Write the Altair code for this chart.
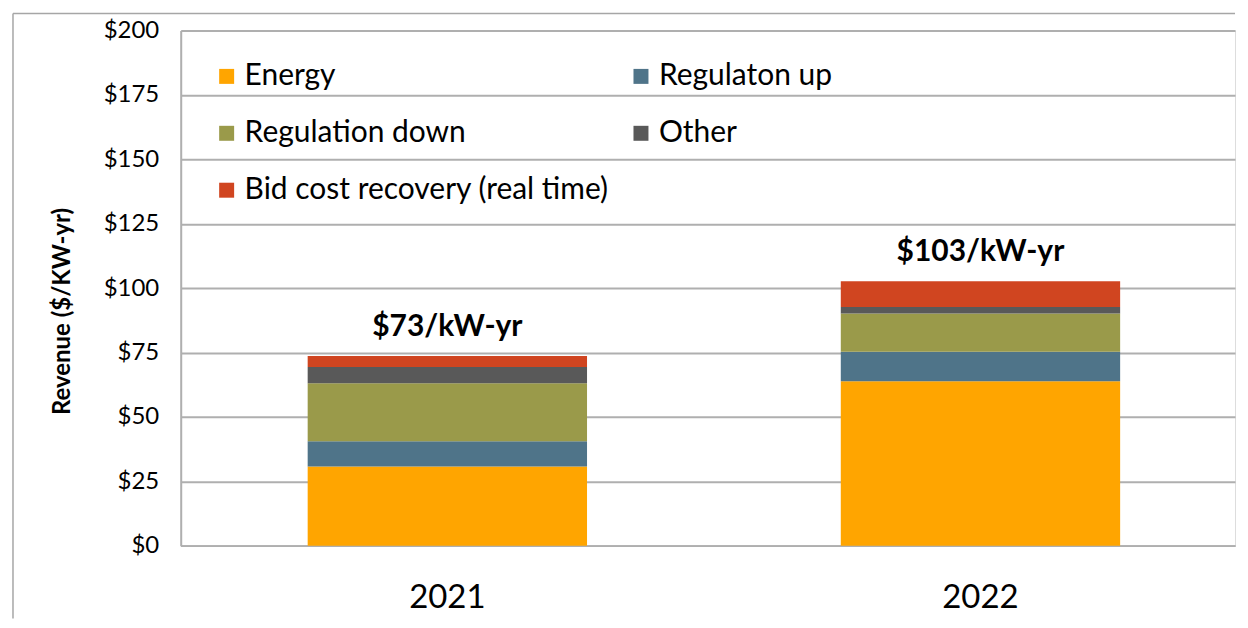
import altair as alt
import pandas as pd

years = ["2021", "2022"]
categories = ["Energy", "Regulaton up", "Regulation down", "Other",
              "Bid cost recovery (real time)"]
colors = ["#FFA500", "#4F7489", "#9A9A4A", "#595959", "#D04520"]
energy = [30.7, 63.8]
reg_up = [9.8, 11.5]
reg_down = [22.5, 14.8]
other = [6.3, 2.5]
bid_cost = [4.3, 10.0]
total_labels = ["$73/kW-yr", "$103/kW-yr"]
y_ticks = [0, 25, 50, 75, 100, 125, 150, 175, 200]

series = [energy, reg_up, reg_down, other, bid_cost]
rows = []
for ci, (cat, vals) in enumerate(zip(categories, series)):
    for yi, yr in enumerate(years):
        rows.append({"year": yr, "cat": cat, "idx": ci, "value": vals[yi]})
df = pd.DataFrame(rows)

lab_df = pd.DataFrame({
    "year": years,
    "value": [sum(s[i] for s in series) for i in range(len(years))],
    "label": total_labels,
})

W, H = 1056, 516
FONT = "Lato"
GRID = "#AFAFAF"

xscale = alt.Scale(domain=years, paddingInner=0.476, paddingOuter=0.2268, align=0.525)
yscale = alt.Scale(domain=[0, 200], nice=False)

xaxis = alt.Axis(
    title=None, labelAngle=0, ticks=False, labelFontSize=33, labelColor="#000",
    labelPadding=36, domainColor=GRID, domainWidth=2, grid=False, labelFont=FONT)
yaxis = alt.Axis(
    values=y_ticks, labelExpr="'$' + datum.value", ticks=False,
    labelFontSize=24, labelColor="#000", labelPadding=22, labelFont=FONT,
    grid=True, gridColor=GRID, gridWidth=2, domainColor=GRID, domainWidth=2,
    title="Revenue ($/KW-yr)", titleFontSize=24, titleFontWeight="bold",
    titleColor="#000", titleFont=FONT, titleX=-118, titleY=281,
    titleAngle=270, titleAlign="center", titleBaseline="middle")

bars = alt.Chart(df).mark_bar().encode(
    x=alt.X("year:N", scale=xscale, axis=xaxis),
    y=alt.Y("value:Q", scale=yscale, stack="zero", axis=yaxis),
    color=alt.Color("cat:N", scale=alt.Scale(domain=categories, range=colors),
                    legend=alt.Legend(
                        title=None, orient="none", legendX=31, legendY=31,
                        direction="horizontal", columns=2, symbolType="square",
                        symbolSize=225, symbolStrokeWidth=0, labelFontSize=30,
                        labelFont=FONT, labelColor="#000", labelOffset=3,
                        labelLimit=0, rowPadding=27, columnPadding=17, padding=0)),
    order=alt.Order("idx:Q", sort="ascending"),
)

labels = alt.Chart(lab_df).mark_text(
    fontSize=30, fontWeight="bold", font=FONT, color="#000",
    baseline="bottom", dy=-14,
).encode(x=alt.X("year:N", scale=xscale, axis=xaxis),
         y=alt.Y("value:Q", scale=yscale, axis=yaxis),
         text="label:N")

frame_data = alt.Data(values=[{"a": 1}])
left_border = alt.Chart(frame_data).mark_rule(color="#A6A6A6", strokeWidth=1.5).encode(
    x=alt.value(-168), y=alt.value(-17), y2=alt.value(589))
top_border = alt.Chart(frame_data).mark_rule(color="#A6A6A6", strokeWidth=1.5).encode(
    x=alt.value(-168), x2=alt.value(W), y=alt.value(-17))

chart = alt.layer(bars, labels, left_border, top_border).properties(
    width=W, height=H, padding=4,
).configure_view(strokeWidth=0, stroke="transparent").configure(font=FONT)

chart.save("out.html", embed_options={"renderer": "svg", "actions": False})
